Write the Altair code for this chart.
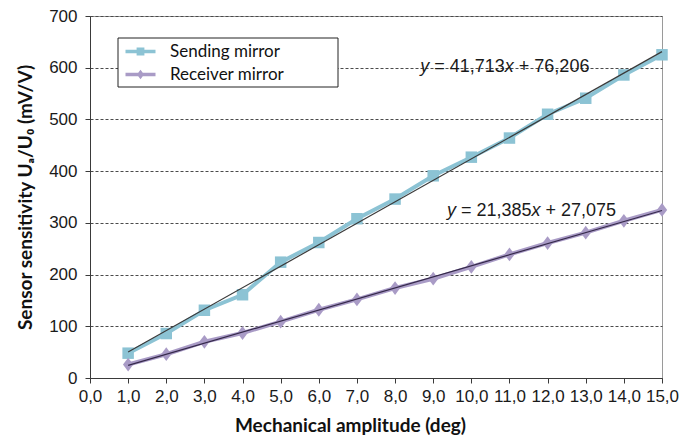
import altair as alt
import pandas as pd

# ---- data ----
amplitude = [1, 2, 3, 4, 5, 6, 7, 8, 9, 10, 11, 12, 13, 14, 15]
sending = [48, 86, 131, 161, 224, 262, 308, 346, 391, 427, 464, 510, 541, 586, 625]
receiver = [26, 46, 70, 87, 109, 132, 152, 174, 192, 215, 239, 261, 281, 304, 325]
series_names = ["Sending mirror", "Receiver mirror"]
series_colors = ["#8CC3D4", "#A99BC6"]
trend_colors = ["#3A3A3A", "#35294A"]

# trend-line equations (as printed) and their anchor positions in data units
eq_slope = ["41,713", "21,385"]
eq_icpt = ["76,206", "27,075"]
eq_x = [8.66, 9.36]
eq_y = [602, 323]

x_ticks = list(range(0, 16))
y_ticks = list(range(0, 701, 100))

rows = []
for a, s, r in zip(amplitude, sending, receiver):
    rows.append({"x": a, "value": s, "series": series_names[0]})
    rows.append({"x": a, "value": r, "series": series_names[1]})
df = pd.DataFrame(rows)

eq_df = pd.DataFrame({
    "x": eq_x, "y": eq_y,
    "p1": ["y", "y"],
    "p2": ["= " + s for s in eq_slope],
    "p3": ["x", "x"],
    "p4": ["+ " + c for c in eq_icpt],
})

FONT_T = "Liberation Sans"
FONT_B = "Lato"

xscale = alt.Scale(domain=[0, 15], nice=False, zero=False)
yscale = alt.Scale(domain=[0, 700], nice=False)

x_axis = alt.Axis(
    values=x_ticks,
    labelExpr="replace(format(datum.value, '.1f'), '.', ',')",
    labelOverlap=False, labelFlush=False,
    title="Mechanical amplitude (deg)",
    grid=False,
    titleX=260, titleY=47, titleBaseline="middle", titleAlign="center",
)
y_axis = alt.Axis(
    values=y_ticks,
    labelOverlap=False,
    title="Sensor sensitivity Uₐ/U₀ (mV/V)",
    grid=True, gridDash=[3, 2], gridColor="#4a4a4a", gridWidth=1,
    titleX=-65, titleY=181, titleBaseline="middle", titleAlign="center", titleAngle=270,
)

base = alt.Chart(df)

X = alt.X("x:Q", scale=xscale, axis=x_axis)
Y = alt.Y("value:Q", scale=yscale, axis=y_axis)

layers = []
diamond = "M0,-1L0.75,0L0,1L-0.75,0Z"
shapes = ["square", diamond]
sizes = [132, 190]
for name, col, shp, sz in zip(series_names, series_colors, shapes, sizes):
    sub = base.transform_filter(alt.datum.series == name)
    layers.append(sub.mark_line(color=col, strokeWidth=4).encode(x=X, y=Y))
    layers.append(sub.mark_point(shape=shp, filled=True, size=sz, color=col, opacity=1).encode(x=X, y=Y))

for name, tcol in zip(series_names, trend_colors):
    sub = base.transform_filter(alt.datum.series == name).transform_regression(
        "x", "value", extent=[1, 15]
    )
    layers.append(sub.mark_line(color=tcol, strokeWidth=1.2).encode(x=X, y=Y))

# equation annotations
eq_base = alt.Chart(eq_df)
EX = alt.X("x:Q", scale=xscale, axis=x_axis)
EY = alt.Y("y:Q", scale=yscale, axis=y_axis)
pieces = [("p1", 0, "italic"), ("p2", 14, "normal"), ("p3", 84.6, "italic"), ("p4", 98.6, "normal")]
for field, dx, style in pieces:
    layers.append(
        eq_base.mark_text(align="left", baseline="middle", dx=dx, font=FONT_T,
                          fontSize=18, fontStyle=style, color="#1a1a1a").encode(
            x=EX, y=EY, text=f"{field}:N")
    )

# legend frame: white box with a dark border (pixel placement inside the plot)
frame = alt.Chart(pd.DataFrame({"k": [0]})).mark_rect(
    fill="#ffffff", fillOpacity=1, stroke="#222222", strokeWidth=1,
    x=28, x2=248, y=22, y2=71,
).encode(
    opacity=alt.value(1)
)
layers.append(frame)

# legend-only layer (no visible data)
leg_paths = [
    "M-1,-0.3H4V0.3H-1Z M0.85,-0.65H2.15V0.65H0.85Z",
    "M-1,-0.3H4V0.3H-1Z M1.5,-0.8L2.1,0L1.5,0.8L0.9,0Z",
]
leg = alt.Legend(title=None)
legend_layer = base.transform_filter("false").mark_point(filled=True, opacity=1).encode(
    x=X, y=Y,
    color=alt.Color("series:N", scale=alt.Scale(domain=series_names, range=series_colors),
                    legend=leg),
    shape=alt.Shape("series:N", scale=alt.Scale(domain=series_names, range=leg_paths),
                    legend=leg),
)
layers.append(legend_layer)

chart = alt.layer(*layers).properties(
    width=572, height=362,
    autosize=alt.AutoSizeParams(type="none"),
    padding={"left": 90, "top": 16, "right": 18, "bottom": 65},
).configure_view(
    stroke="#9a9a9a", strokeWidth=1
).configure_axis(
    domainColor="#3a3a3a", tickColor="#3a3a3a", tickSize=5, domainWidth=1,
    labelFont=FONT_T, labelFontSize=17, labelColor="#1a1a1a",
    titleFont=FONT_B, titleFontSize=19, titleFontWeight="bold", titleColor="#111111",
).configure_axisX(
    labelPadding=5, labelOverlap=False, labelFlush=False,
).configure_axisY(
    labelPadding=8,
).configure_legend(
    orient="none", legendX=28, legendY=22,
    padding=5, cornerRadius=0,
    symbolSize=144, labelOffset=30, rowPadding=5,
    labelFont=FONT_B, labelFontSize=17, labelColor="#111111",
    symbolStrokeWidth=0,
)

chart.save("out.html", embed_options={"renderer": "svg", "actions": False})
